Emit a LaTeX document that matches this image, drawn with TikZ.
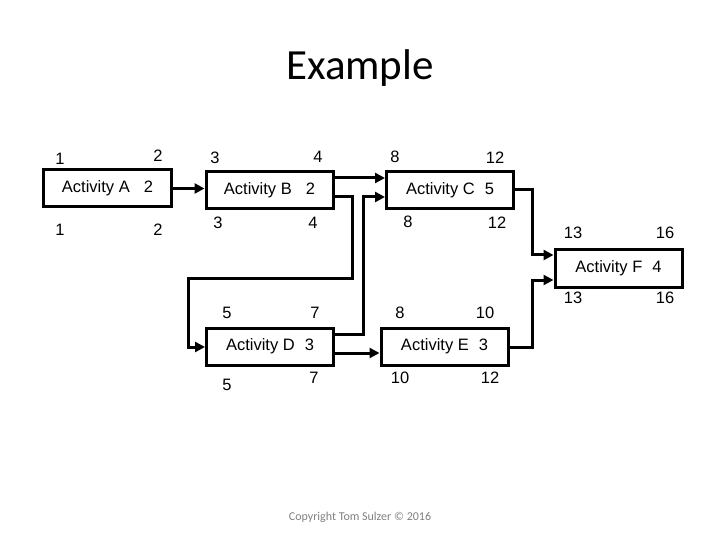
\documentclass[tikz,border=0pt]{standalone}
\usepackage{fontspec}
\setmainfont{Liberation Sans}
\newfontfamily\calib{Carlito}
\usetikzlibrary{arrows.meta}
\tikzset{
  act/.style={draw, line width=3bp, minimum width=127bp, minimum height=37bp, inner sep=0pt, font=\fontsize{16.5bp}{18bp}\selectfont},
  num/.style={inner sep=0pt, font=\fontsize{16.5bp}{18bp}\selectfont},
  conn/.style={line width=3bp},
  arr/.style={line width=3bp, -{Triangle[length=10bp,width=10bp]}},
}
\begin{document}
\begin{tikzpicture}[x=1bp,y=-1bp]
\useasboundingbox (0,0) rectangle (720,540);
\node[anchor=base, font=\calib\fontsize{43bp}{48bp}\selectfont] (title) at (360,80) {Example};

\node[act] (A) at (107.5,188.5) {Activity A\hspace{14bp}2};
\node[act] (B) at (269.5,190.5) {Activity B\hspace{14bp}2};
\node[act] (C) at (450,190) {Activity C\hspace{10bp}5};
\node[act] (D) at (270,346.5) {Activity D\hspace{10bp}3};
\node[act] (E) at (444.5,346.5) {Activity E\hspace{10bp}3};
\node[act] (F) at (618.5,268.5) {Activity F\hspace{10bp}4};

% numbers
\node[num] (a1) at (60,159) {1};
\node[num] (a2) at (158,156) {2};
\node[num] (a3) at (60,230) {1};
\node[num] (a4) at (158,230) {2};
\node[num] (b1) at (215,158) {3};
\node[num] (b2) at (318,157) {4};
\node[num] (b3) at (218,223) {3};
\node[num] (b4) at (313,223) {4};
\node[num] (c1) at (395,157) {8};
\node[num] (c2) at (495,158) {12};
\node[num] (c3) at (408,222) {8};
\node[num] (c4) at (497,223) {12};
\node[num] (d1) at (227,313) {5};
\node[num] (d2) at (315,313) {7};
\node[num] (d3) at (227,385) {5};
\node[num] (d4) at (314,378) {7};
\node[num] (e1) at (400,313) {8};
\node[num] (e2) at (485,313) {10};
\node[num] (e3) at (400,378) {10};
\node[num] (e4) at (490,378) {12};
\node[num] (f1) at (573,233) {13};
\node[num] (f2) at (665,233) {16};
\node[num] (f3) at (573,298) {13};
\node[num] (f4) at (665,298) {16};

% connectors
\draw[arr] (A.east) -- (A.east -| B.west);
\draw[arr] (B.east |- 0,178) -- (C.west |- 0,178);
\draw[arr] (B.east |- 0,197) -| (352,278) -| (188,347) -- (D.west |- 0,347);
\draw[arr] (D.east |- 0,334) -| (363,197) -- (C.west |- 0,197);
\draw[arr] (D.east |- 0,353) -- (E.west |- 0,353);
\draw[arr] (C.east |- 0,190) -| (532,255) -- (F.west |- 0,255);
\draw[arr] (E.east |- 0,347) -| (532,280) -- (F.west |- 0,280);

\node[font=\calib\fontsize{12bp}{14bp}\selectfont, text=gray] (copy) at (360,517) {Copyright Tom Sulzer © 2016};
\end{tikzpicture}
\end{document}
